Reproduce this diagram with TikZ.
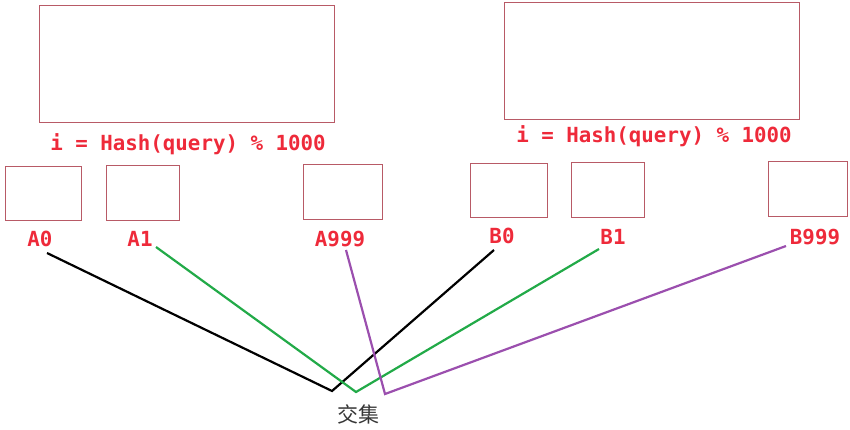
\documentclass[tikz,border=0pt]{standalone}
\usepackage{fontspec}
\setmonofont{DejaVu Sans Mono}
\newfontfamily\cjk{Noto Sans CJK SC}
\definecolor{boxc}{HTML}{B85A66}
\definecolor{txtc}{HTML}{EE2A3A}
\definecolor{grn}{HTML}{22AA48}
\definecolor{prp}{HTML}{9B4FAE}
\begin{document}
\begin{tikzpicture}[x=1pt,y=-1pt,
  bx/.style={draw=boxc,line width=0.9pt,inner sep=0pt},
  lbl/.style={text=txtc,font=\ttfamily\bfseries\fontsize{20.8}{23}\selectfont,inner sep=0pt},
  ln/.style={line width=2.2pt}]
\useasboundingbox (0,0) rectangle (850,430);
% big boxes
\node[bx,minimum width=295pt,minimum height=117pt] (HA) at (186.5,63.5) {};
\node[bx,minimum width=295pt,minimum height=117pt] (HB) at (651.5,60.5) {};
\node[lbl] (FA) at (188,144) {i = Hash(query) \% 1000};
\node[lbl] (FB) at (654,136) {i = Hash(query) \% 1000};
% small boxes
\node[bx,minimum width=76pt,minimum height=54pt] (bA0) at (43,193) {};
\node[bx,minimum width=73pt,minimum height=55pt] (bA1) at (142.5,192.5) {};
\node[bx,minimum width=79pt,minimum height=55pt] (bA9) at (342.5,191.5) {};
\node[bx,minimum width=77pt,minimum height=54pt] (bB0) at (508.5,190) {};
\node[bx,minimum width=73pt,minimum height=55pt] (bB1) at (607.5,189.5) {};
\node[bx,minimum width=79pt,minimum height=55pt] (bB9) at (807.5,188.5) {};
% labels
\node[lbl] (A0) at (40,239) {A0};
\node[lbl] (A1) at (140,239) {A1};
\node[lbl] (A9) at (340,239) {A999};
\node[lbl] (B0) at (502,236) {B0};
\node[lbl] (B1) at (613,237) {B1};
\node[lbl] (B9) at (815,237) {B999};
% meeting points
\coordinate (pA0) at (47,253);
\coordinate (pA1) at (156,247);
\coordinate (pA9) at (346,250);
\coordinate (pB0) at (494,250);
\coordinate (pB1) at (599,249);
\coordinate (pB9) at (786,246);
\coordinate (mK) at (332,391);
\coordinate (mG) at (356,392);
\coordinate (mP) at (385,394);
\draw[ln,black] (pA0) -- (mK) -- (pB0);
\draw[ln,grn] (pA1) -- (mG) -- (pB1);
\draw[ln,prp] (pA9) -- (mP) -- (pB9);
\node[text={rgb,255:red,55;green,55;blue,55},font=\cjk\fontsize{21}{23}\selectfont,inner sep=0pt] (J) at (358,414) {交集};
\end{tikzpicture}
\end{document}
